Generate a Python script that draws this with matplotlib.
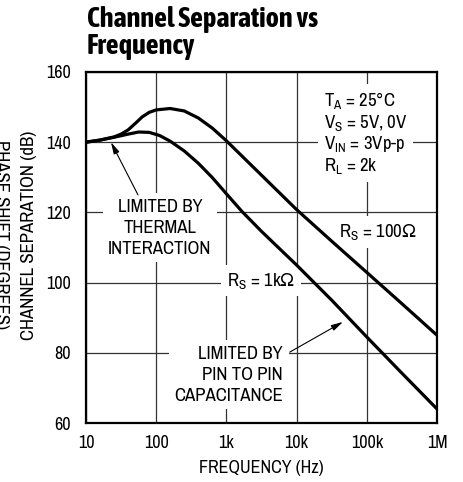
import matplotlib
matplotlib.use("Agg")
import matplotlib.pyplot as plt
from matplotlib import font_manager

# curve data
freq_100 = [10, 15.8, 25.1, 31.6, 39.8, 50.1, 63.1, 79.4, 100, 158, 251, 398, 631,
            1000, 2000, 4000, 10000, 31600, 100000, 316000, 1000000]
sep_100 = [140.0, 140.6, 141.5, 142.3, 143.5, 145.3, 147.2, 148.5, 149.2, 149.6, 148.9,
           146.9, 144.0, 140.4, 134.5, 128.6, 120.8, 111.8, 102.9, 94.0, 85.0]

freq_1k = [10, 15.8, 25.1, 39.8, 56.2, 79.4, 112, 158, 251, 398, 631, 1000, 1660,
           3160, 10000, 31600, 100000, 316000, 1000000]
sep_1k = [140.0, 140.6, 141.4, 142.3, 142.9, 142.8, 141.9, 140.3, 137.5, 134.0, 129.9,
          125.3, 120.3, 114.6, 105.0, 95.0, 84.5, 74.2, 64.0]

x_ticks = [10, 100, 1000, 10000, 100000, 1000000]
x_labels = ["10", "100", "1k", "10k", "100k", "1M"]
y_ticks = [60, 80, 100, 120, 140, 160]


def _w(f):
    w = f.weight
    if isinstance(w, str):
        w = font_manager.weight_dict.get(w, 400)
    return w


# the original uses a narrow Helvetica; use a narrow face if one is around
entries = [f for f in font_manager.fontManager.ttflist
           if ("Narrow" in f.name or "Condensed" in f.name)
           and "Mono" not in f.name and "Serif" not in f.name]
narrow = sorted({f.name for f in entries})
narrow_bold = sorted({f.name for f in entries if _w(f) >= 600})
if narrow:
    FONT, k, ls = narrow[0], 1.0, 1.38
else:
    FONT, k, ls = "Liberation Sans", 0.87, 1.38
if narrow_bold:
    TITLE_FONT, tk = narrow_bold[0], 1.1
else:
    TITLE_FONT, tk = "Liberation Sans", 0.83

plt.rcParams["font.family"] = [FONT, "DejaVu Sans"]
plt.rcParams["mathtext.fontset"] = "custom"
plt.rcParams["mathtext.rm"] = FONT
plt.rcParams["mathtext.default"] = "regular"
plt.rcParams["mathtext.fallback"] = "stixsans"

fig = plt.figure(figsize=(4.63, 4.82), dpi=100)
ax = fig.add_axes([86 / 463, 59 / 482, 351 / 463, 351 / 482])

ax.set_xscale("log")
ax.set_xlim(10, 1e6)
ax.set_ylim(60, 160)
ax.set_xticks(x_ticks)
ax.set_xticklabels(x_labels)
ax.set_yticks(y_ticks)
ax.minorticks_off()
ax.tick_params(length=0, labelsize=13 * k, pad=9)
ax.tick_params(axis="y", pad=11)
ax.grid(True, color="#333333", lw=0.9, zorder=1)
ax.set_axisbelow(True)
for s in ax.spines.values():
    s.set_linewidth(1.6)
    s.set_zorder(6)

ax.plot(freq_100, sep_100, color="k", lw=2.3, zorder=5, solid_capstyle="butt")
ax.plot(freq_1k, sep_1k, color="k", lw=2.3, zorder=5, solid_capstyle="butt")

ax.set_xlabel("FREQUENCY (Hz)", fontsize=13 * k, labelpad=6)
fig.text(29 / 463, 247 / 482, "CHANNEL SEPARATION (dB)", rotation=90,
         ha="center", va="center", fontsize=13.5 * k)
# stray label cut off at the left edge of the original
fig.text(1 / 463, 247 / 482, "PHASE SHIFT (DEGREES)", rotation=270,
         ha="center", va="center", fontsize=13.5 * k)

fig.text(87 / 463, 1 - 6 / 482, "Channel Separation vs\nFrequency", ha="left", va="top",
         fontsize=18.5 * tk, fontweight="bold", linespacing=1.0,
         family=[TITLE_FONT, "DejaVu Sans"])

box = dict(facecolor="white", edgecolor="none", pad=4)
fs = 13.5 * k

ax.text(24500, 142.6, "T$_{A}$ = 25°C\nV$_{S}$ = 5V, 0V\nV$_{IN}$ = 3Vp-p\nR$_{L}$ = 2k",
        ha="left", va="center", fontsize=fs, linespacing=1.12, bbox=box, zorder=3)
ax.text(113, 115.6, "LIMITED BY\nTHERMAL\nINTERACTION", ha="center", va="center",
        fontsize=fs, linespacing=ls, bbox=box, zorder=3)
ax.text(145000, 114.4, r"R$_{S}$ = 100$\Omega$", ha="center", va="center",
        fontsize=fs, bbox=box, zorder=3)
ax.text(3090, 100.5, r"R$_{S}$ = 1k$\Omega$", ha="center", va="center",
        fontsize=fs, bbox=box, zorder=3)
ax.text(6400, 73.7, "LIMITED BY\nPIN TO PIN\nCAPACITANCE", ha="right", va="center",
        multialignment="right", fontsize=fs, linespacing=ls, bbox=box, zorder=3)

arrow = dict(arrowstyle="-|>,head_width=0.18,head_length=0.7", color="k", lw=0.8,
             shrinkA=0, shrinkB=0)
ax.annotate("", xy=(22.7, 140), xytext=(55, 125), arrowprops=arrow, zorder=4)
ax.annotate("", xy=(45800, 88.8), xytext=(8000, 80.2), arrowprops=arrow, zorder=4)

fig.savefig("out.png", dpi=100)
